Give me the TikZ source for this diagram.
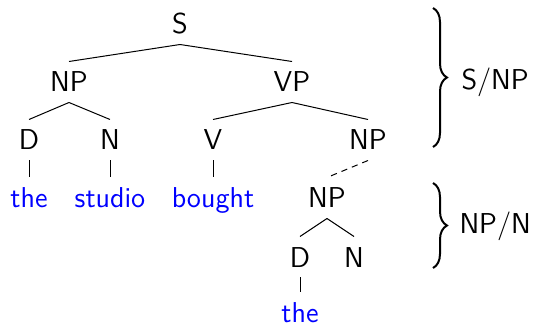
\documentclass[tikz,border=0pt]{standalone}
\usepackage{tikz}
\usetikzlibrary{decorations.pathreplacing}

\begin{document}
\begin{tikzpicture}[x=0.4pt,y=-0.4pt,
  every node/.style={font=\sffamily\fontsize{11.5}{14}\selectfont,
    inner xsep=2pt, inner ysep=4pt, text height=8pt, text depth=0pt},
  word/.style={text=blue},
  brace/.style={decorate, decoration={brace, amplitude=5.6pt}, line width=0.8pt}]
\useasboundingbox (0,0) rectangle (534,326);

%%%
% categories
\node (s) at (180,24) {S};
\node (np1) at (69,82) {NP};
\node (vp) at (292,82) {VP};
\node (d1) at (29,140) {D};
\node (n1) at (110,140) {N};
\node (v) at (213,140) {V};
\node (np2) at (368,140) {NP};
\node (np3) at (327,198) {NP};
\node (d2) at (300,257) {D};
\node (n2) at (354,257) {N};

%%%
% words
\node[word] (the1) at (29,198) {the};
\node[word] (studio) at (110,198) {studio};
\node[word] (bought) at (213,198) {bought};
\node[word] (the2) at (300,313) {the};

\draw (s.south) -- (np1.north);
\draw (s.south) -- (vp.north);
\draw (np1.south) -- (d1.north);
\draw (np1.south) -- (n1.north);
\draw (vp.south) -- (v.north);
\draw (vp.south) -- (np2.north);
\draw (d1.south) -- (the1.north);
\draw (n1.south) -- (studio.north);
\draw (v.south) -- (bought.north);
\draw[dash pattern=on 2.5pt off 2pt] (np2.south) -- (np3.north);
\draw (np3.south) -- (d2.north);
\draw (np3.south) -- (n2.north);
\draw (d2.south) -- (the2.north);

%%%
% braces
\coordinate (b1top) at (433,8);
\coordinate (b1bot) at (433,147);
\coordinate (b2top) at (433,183);
\coordinate (b2bot) at (433,268);
\draw[brace] (b1top) -- (b1bot);
\draw[brace] (b2top) -- (b2bot);
\node[anchor=west] (snp) at (456,80) {S/NP};
\node[anchor=west] (npn) at (454,224) {NP/N};
\end{tikzpicture}
\end{document}
